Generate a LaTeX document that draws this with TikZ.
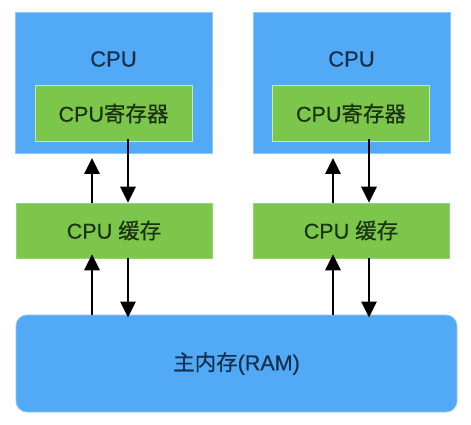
\documentclass[tikz,border=0pt]{standalone}
\usepackage{fontspec}
\setmainfont{Liberation Sans}[FakeBold=0.5]
\newfontfamily\cjk{Noto Sans CJK SC}[FakeBold=0.5]
\usetikzlibrary{arrows.meta}
\definecolor{cpublue}{HTML}{52A9F6}
\definecolor{cpuedge}{HTML}{8CC8FA}
\definecolor{cachegreen}{HTML}{7CC74B}
\definecolor{regedge}{HTML}{C8EBA8}
\definecolor{bluetext}{HTML}{15304C}
\definecolor{greentext}{HTML}{1C3312}
\tikzset{
  cpubox/.style={draw=cpuedge,line width=0.8pt,fill=cpublue,minimum width=197pt,minimum height=141pt,inner sep=0pt},
  regbox/.style={draw=regedge,line width=1pt,fill=cachegreen,minimum width=157pt,minimum height=56pt,inner sep=0pt,text=greentext,font=\fontsize{21.5}{24}\selectfont},
  cachebox/.style={draw=cachegreen!80!white,line width=0.6pt,fill=cachegreen,minimum width=196pt,minimum height=55pt,inner sep=0pt,text=greentext,font=\fontsize{21.5}{24}\selectfont},
  rambox/.style={draw=cpuedge,line width=0.8pt,fill=cpublue,rounded corners=11pt,minimum width=441pt,minimum height=97pt,inner sep=0pt,text=bluetext,font=\fontsize{21.5}{24}\selectfont},
  cpulabel/.style={text=bluetext,font=\fontsize{22}{24}\selectfont,inner sep=0pt},
  arr/.style={line width=2.8pt,-{Triangle[length=16pt,width=15pt]}}
}
\begin{document}
\begin{tikzpicture}[x=1pt,y=-1pt]
\useasboundingbox[fill=white] (0,0) rectangle (471,425);
% left column
\node[cpubox] (cpu1) at (113.5,83) {};
\node[cpulabel] (cpulab1) at (113.5,59) {CPU};
\node[regbox] (reg1) at (113.5,113.5) {CPU{\cjk 寄存器}};
\node[cachebox] (cache1) at (114,230.5) {CPU {\cjk 缓存}};
% right column
\node[cpubox] (cpu2) at (351.5,83) {};
\node[cpulabel] (cpulab2) at (351.5,59) {CPU};
\node[regbox] (reg2) at (351,113.5) {CPU{\cjk 寄存器}};
\node[cachebox] (cache2) at (351,230.5) {CPU {\cjk 缓存}};
% RAM
\node[rambox] (ram) at (236.5,363.5) {{\cjk 主内存}(RAM)};
% arrow columns
\coordinate (ua) at (92,0);
\coordinate (da) at (128,0);
\coordinate (ub) at (333,0);
\coordinate (db) at (369,0);
% arrows between CPU and cache
\draw[arr] (cache1.north -| ua) -- ([yshift=-4pt]cpu1.south -| ua);
\draw[arr] ([yshift=3pt]reg1.south -| da) -- (cache1.north -| da);
\draw[arr] (cache2.north -| ub) -- ([yshift=-4pt]cpu2.south -| ub);
\draw[arr] ([yshift=3pt]reg2.south -| db) -- (cache2.north -| db);
% arrows between cache and RAM
\draw[arr] (ram.north -| ua) -- ([yshift=4pt]cache1.south -| ua);
\draw[arr] (cache1.south -| da) -- ([yshift=-3pt]ram.north -| da);
\draw[arr] (ram.north -| ub) -- ([yshift=4pt]cache2.south -| ub);
\draw[arr] (cache2.south -| db) -- ([yshift=-3pt]ram.north -| db);
\end{tikzpicture}
\end{document}
